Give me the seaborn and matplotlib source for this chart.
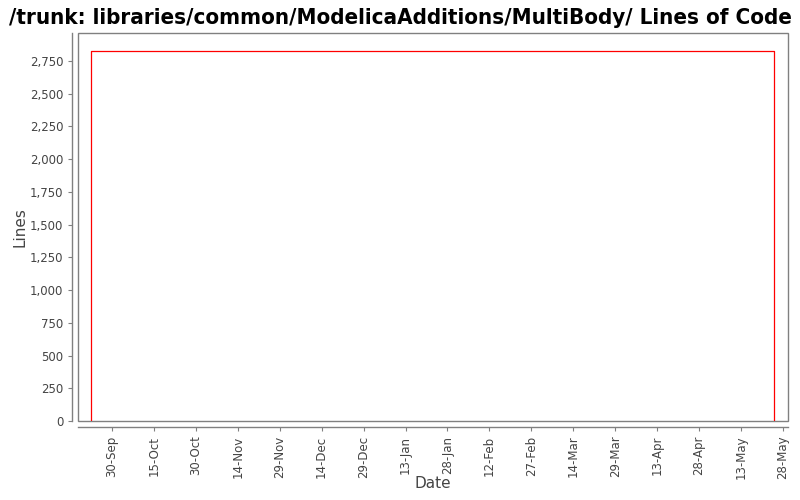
import pandas as pd
import matplotlib
matplotlib.use('Agg')
import matplotlib.pyplot as plt
import matplotlib.dates as mdates
from matplotlib.patches import Rectangle
from matplotlib.ticker import FuncFormatter
import seaborn as sns

# Lines of code over time (step: added, kept, removed)
dates = pd.to_datetime(['2005-09-22 12:00', '2005-09-22 12:00', '2006-05-25 00:00', '2006-05-25 00:00'])
lines = [0, 2825, 2825, 0]

tick_dates = pd.date_range('2005-09-30', periods=17, freq='15D')
y_ticks = list(range(0, 3000, 250))

data = pd.DataFrame({'Date': dates, 'Lines': lines})

sns.set_theme(style='white')
plt.rcParams['font.family'] = ['DejaVu Sans']

fig = plt.figure(figsize=(8, 5), dpi=100)
ax = fig.add_axes([0.0975, 0.158, 0.8875, 0.776])

sns.lineplot(data=data, x='Date', y='Lines', estimator=None, sort=False,
             color='red', linewidth=0.9, ax=ax)

ax.set_xlim(pd.Timestamp('2005-09-17 20:00'), pd.Timestamp('2006-05-29 20:00'))
ax.set_ylim(0, 2964)

ax.set_xticks(tick_dates)
ax.xaxis.set_major_formatter(mdates.DateFormatter('%d-%b'))
ax.set_yticks(y_ticks)
ax.yaxis.set_major_formatter(FuncFormatter(lambda v, p: f'{int(v):,}'))

ax.tick_params(axis='x', labelrotation=90)
ax.tick_params(axis='both', which='major', labelsize=8.5, labelcolor='#444444',
               color='#808080', length=3, width=0.8, direction='out',
               bottom=True, left=True)

for side in ['top', 'right']:
    ax.spines[side].set_visible(False)
for side in ['left', 'bottom']:
    ax.spines[side].set_position(('outward', 4))
    ax.spines[side].set_color('#808080')
    ax.spines[side].set_linewidth(1)

# plot area frame
ax.add_patch(Rectangle((0, 0), 1, 1, transform=ax.transAxes, fill=False,
                       edgecolor='#808080', linewidth=1, clip_on=False))

ax.set_xlabel('Date', fontsize=11, color='#444444', labelpad=-2)
ax.set_ylabel('Lines', fontsize=11, color='#444444', labelpad=2)

fig.suptitle('/trunk: libraries/common/ModelicaAdditions/MultiBody/ Lines of Code',
             fontsize=16, fontweight='bold', fontstretch='condensed', color='black',
             x=0.5, y=0.985)

fig.savefig('out.png', dpi=100)
